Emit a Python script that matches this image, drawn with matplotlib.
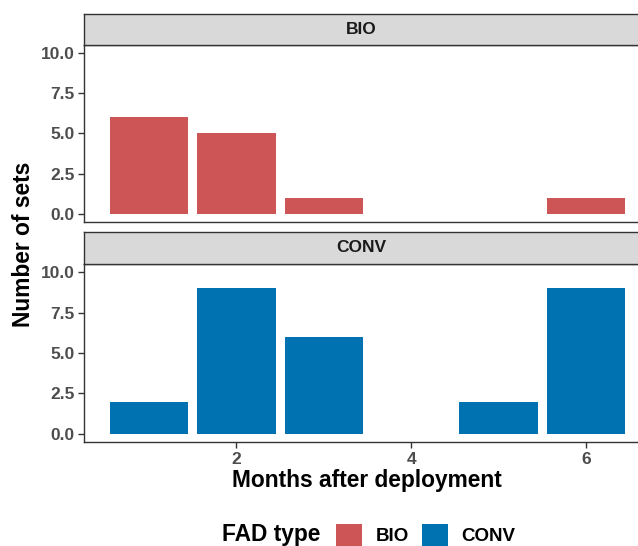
import matplotlib
matplotlib.use("Agg")
import matplotlib.pyplot as plt
from matplotlib.patches import Patch

plt.rcParams['font.family'] = ['Liberation Sans', 'DejaVu Sans']

months = [1, 2, 3, 4, 5, 6]
bio_sets = [6, 5, 1, 0, 0, 1]
conv_sets = [2, 9, 6, 0, 2, 9]
facets = ["BIO", "CONV"]
colors = {"BIO": "#CD5555", "CONV": "#0072B2"}
yticks = [0.0, 2.5, 5.0, 7.5, 10.0]
ytick_labels = ["0.0", "2.5", "5.0", "7.5", "10.0"]
xticks = [2, 4, 6]

W, H = 638, 546
fig = plt.figure(figsize=(W / 100, H / 100), dpi=100)

def fx(px):
    return px / W

def fy(py):
    return 1 - py / H

left_px, right_px = 84, 651
panels = [
    ("BIO", bio_sets, 14, 45, 222),
    ("CONV", conv_sets, 232, 264, 442),
]

for name, vals, strip_top, ptop, pbot in panels:
    ax = fig.add_axes([fx(left_px), fy(pbot), fx(right_px - left_px), (pbot - ptop) / H])
    ax.bar(months, vals, width=0.9, color=colors[name], linewidth=0, zorder=2)
    ax.set_xlim(0.255, 6.745)
    ax.set_ylim(-0.5, 10.5)
    ax.set_yticks(yticks)
    ax.set_yticklabels(ytick_labels)
    ax.set_xticks(xticks)
    for s in ax.spines.values():
        s.set_color("#333333")
        s.set_linewidth(1.0)
    ax.tick_params(axis='both', direction='out', length=4, width=1, color="#333333",
                   labelcolor="#4D4D4D", labelsize=12.5, pad=3)
    for lab in ax.get_yticklabels() + ax.get_xticklabels():
        lab.set_fontweight('bold')
    if name == "BIO":
        ax.tick_params(axis='x', bottom=False, labelbottom=False)
    # strip
    sax = fig.add_axes([fx(left_px), fy(ptop), fx(right_px - left_px), (ptop - strip_top) / H])
    sax.set_xticks([])
    sax.set_yticks([])
    sax.set_facecolor("#D9D9D9")
    for s in sax.spines.values():
        s.set_color("#333333")
        s.set_linewidth(1.0)
    sax.text((361 - left_px) / (right_px - left_px), 0.5, name, ha='center', va='center',
             fontsize=12.5, fontweight='bold', color="#1A1A1A", transform=sax.transAxes)

fig.text(fx(367), fy(481), "Months after deployment", ha='center', va='center',
         fontsize=16.4, fontweight='bold', color='black')
fig.text(fx(24), fy(244), "Number of sets", ha='center', va='center', rotation=90,
         fontsize=16.4, fontweight='bold', color='black')

# legend
fig.text(fx(222), fy(535), "FAD type", ha='left', va='center', fontsize=16.4,
         fontweight='bold', color='black')
handles = [Patch(facecolor=colors[f], edgecolor='none') for f in facets]
fig.legend(handles, facets, loc='center left', bbox_to_anchor=(fx(336), fy(535)),
           ncol=2, frameon=False, prop={'weight': 'bold', 'size': 13.5},
           handlelength=1.4, handleheight=1.4, handletextpad=0.7, columnspacing=0.7,
           borderaxespad=0, borderpad=0)

fig.savefig("out.png", dpi=100)
